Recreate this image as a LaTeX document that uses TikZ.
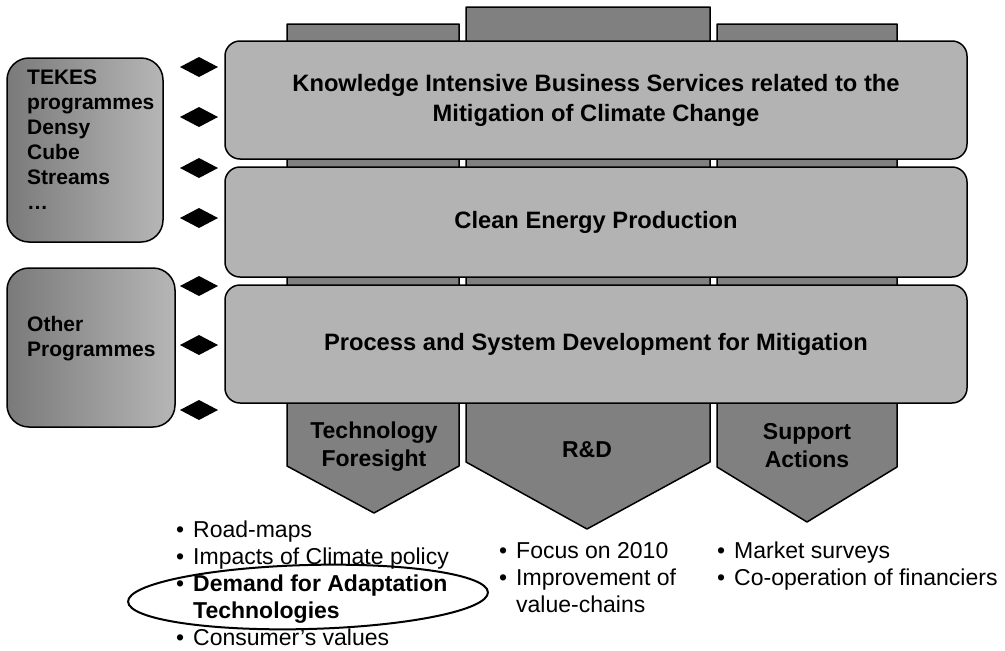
\documentclass[tikz,border=0pt]{standalone}
\usepackage{fontspec}
\setmainfont{Liberation Sans}
\definecolor{colgray}{RGB}{128,128,128}
\definecolor{bargray}{RGB}{179,179,179}
\definecolor{boxdark}{RGB}{122,122,122}
\definecolor{boxlight}{RGB}{182,182,182}
\begin{document}
\begin{tikzpicture}[x=1pt,y=-1pt,
  column/.style={fill=colgray, draw=black, line width=1.5pt, line join=round},
  bar/.style={draw=black, fill=bargray, line width=1.5pt, rounded corners=15pt,
    minimum width=742pt, inner sep=0pt, font=\fontsize{23.7}{30}\selectfont\bfseries, align=center},
  progbox/.style={draw=black, line width=1.5pt, rounded corners=22pt, left color=boxdark, right color=boxlight, inner sep=0pt},
  progtext/.style={anchor=base west, inner sep=0pt, font=\fontsize{21}{25}\selectfont\bfseries},
  linkmark/.style={fill=black},
  collabel/.style={font=\fontsize{23}{28}\selectfont\bfseries, align=center, inner sep=0pt},
  bullets/.style={anchor=base west, inner sep=0pt, font=\fontsize{23}{27}\selectfont},
  highlight/.style={draw=black, line width=2pt}
]
\useasboundingbox (0,0) rectangle (1005,651);

% vertical columns (behind the bars)
\draw[column] (287,24) -- (459,24) -- (459,466) -- (374,513) -- (287,466) -- cycle;
\draw[column] (466,7) -- (710,7) -- (710,462) -- (587,529) -- (466,462) -- cycle;
\draw[column] (717,24) -- (897,24) -- (897,467) -- (807,522) -- (717,467) -- cycle;

% horizontal bars
\node[bar, minimum height=118pt] (kibs) at (596,100)
  {Knowledge Intensive Business Services related to the\\Mitigation of Climate Change};
\node[bar, minimum height=110pt] (clean) at (596,222) {Clean Energy Production};
\node[bar, minimum height=118pt] (process) at (596,344) {Process and System Development for Mitigation};

% column labels
\node[collabel] (tf) at (374,447) {Technology\\Foresight};
\node[collabel] (rd) at (587,450) {R\&D};
\node[collabel] (sa) at (807,446) {Support\\Actions};

% programme boxes
\node[progbox, minimum width=156pt, minimum height=184pt] (tekes) at (85,150) {};
\node[progtext] (tekestext) at (27,84)
  {\begin{tabular}[t]{@{}l@{}}TEKES\\programmes\\Densy\\Cube\\Streams\\…\end{tabular}};
\node[progbox, minimum width=168pt, minimum height=159pt] (other) at (91,347.5) {};
\node[progtext] (othertext) at (27,331)
  {\begin{tabular}[t]{@{}l@{}}Other\\Programmes\end{tabular}};

% double arrow marks
\foreach \yy in {67,117,168,218,286,345,410}
  \fill[linkmark] (180,\yy) -- (199,\yy-10) -- (218,\yy) -- (199,\yy+10) -- cycle;

% bullet lists
\node[bullets] (tflist) at (176,537)
  {\begin{tabular}[t]{@{}l@{}}
   \makebox[17pt][l]{•}Road-maps\\
   \makebox[17pt][l]{•}Impacts of Climate policy\\
   \makebox[17pt][l]{•}\textbf{Demand for Adaptation}\\
   \hspace*{17pt}\textbf{Technologies}\\
   \makebox[17pt][l]{•}Consumer’s values
   \end{tabular}};
\node[bullets] (rdlist) at (499,558)
  {\begin{tabular}[t]{@{}l@{}}
   \makebox[17pt][l]{•}Focus on 2010\\
   \makebox[17pt][l]{•}Improvement of\\
   \hspace*{17pt}value-chains
   \end{tabular}};
\node[bullets] (salist) at (717,558)
  {\begin{tabular}[t]{@{}l@{}}
   \makebox[17pt][l]{•}Market surveys\\
   \makebox[17pt][l]{•}Co-operation of financiers
   \end{tabular}};

% highlight ellipse
\draw[highlight] (308,597) ellipse [x radius=180, y radius=32, rotate=1.5];
\end{tikzpicture}
\end{document}
